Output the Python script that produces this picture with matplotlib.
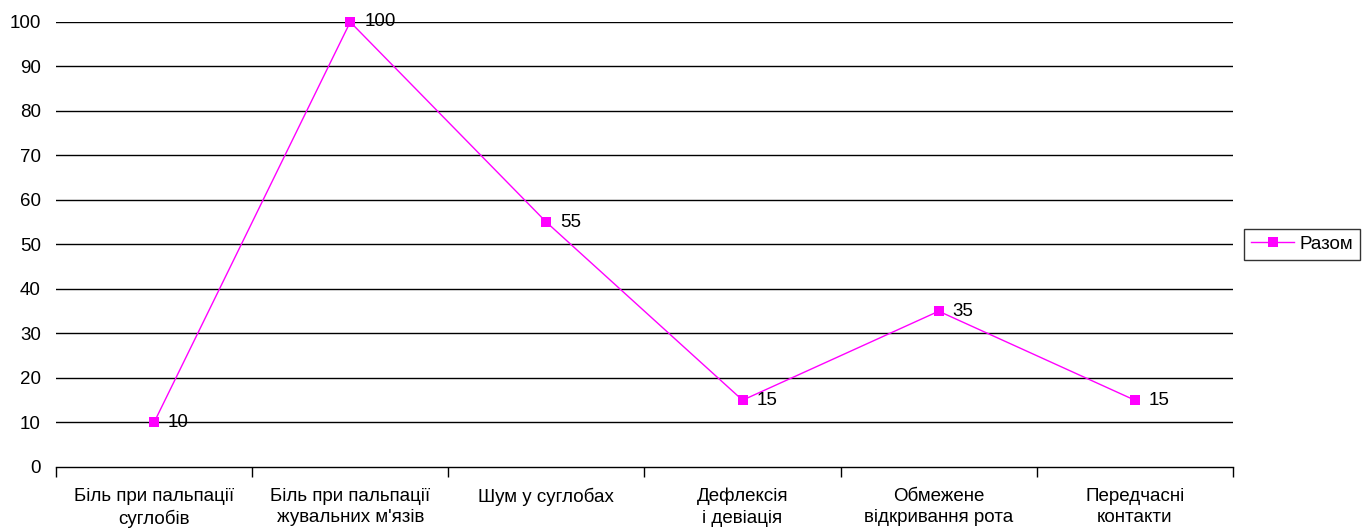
import matplotlib.pyplot as plt

plt.rcParams['font.family'] = ['Liberation Sans', 'DejaVu Sans']

# дані діаграми
categories = ["Біль при пальпації\nсуглобів", "Біль при пальпації\nжувальних м'язів",
              "Шум у суглобах", "Дефлексія\nі девіація",
              "Обмежене\nвідкривання рота", "Передчасні\nконтакти"]
values = [10, 100, 55, 15, 35, 15]
series_name = "Разом"
y_ticks = [0, 10, 20, 30, 40, 50, 60, 70, 80, 90, 100]

fs = 13.5

fig = plt.figure(figsize=(13.66, 5.30), dpi=100)
ax = fig.add_axes([0.041, 0.119, 0.8616, 0.8395])

x = [i + 0.5 for i in range(len(values))]
ax.plot(x, values, color="#ff00ff", linewidth=1.0, marker="s", markersize=6.5,
        markeredgewidth=0, label=series_name, zorder=3, clip_on=False)

for xi, v in zip(x, values):
    ax.annotate(str(v), (xi, v), xytext=(10, 0), textcoords="offset points",
                ha="left", va="center", fontsize=fs)

ax.set_xlim(0, len(values))
ax.set_ylim(0, 100)
ax.set_yticks(y_ticks)
ax.set_yticklabels([str(t) for t in y_ticks], fontsize=fs)
ax.tick_params(axis="y", length=0, pad=11)

# засічки між категоріями, підписи по центру
ax.set_xticks(range(len(values) + 1))
ax.set_xticklabels([])
ax.set_xticks(x, minor=True)
ax.set_xticklabels(categories, minor=True, fontsize=fs, linespacing=1.35)
ax.tick_params(axis="x", which="major", length=7, width=1, direction="out")
ax.tick_params(axis="x", which="minor", length=0, pad=15)

for t in y_ticks[1:]:
    ax.axhline(t, color="black", linewidth=1.0, zorder=1)

for side in ["left", "right", "top"]:
    ax.spines[side].set_visible(False)
ax.spines["bottom"].set_linewidth(1.0)

leg = ax.legend(loc="center left", bbox_to_anchor=(1.005, 0.5), fontsize=fs,
                frameon=True, fancybox=False, edgecolor="black",
                handlelength=2.3, handletextpad=0.3, borderpad=0.35,
                borderaxespad=0.3)
leg.get_frame().set_linewidth(1.0)

fig.savefig("out.png", dpi=100)
